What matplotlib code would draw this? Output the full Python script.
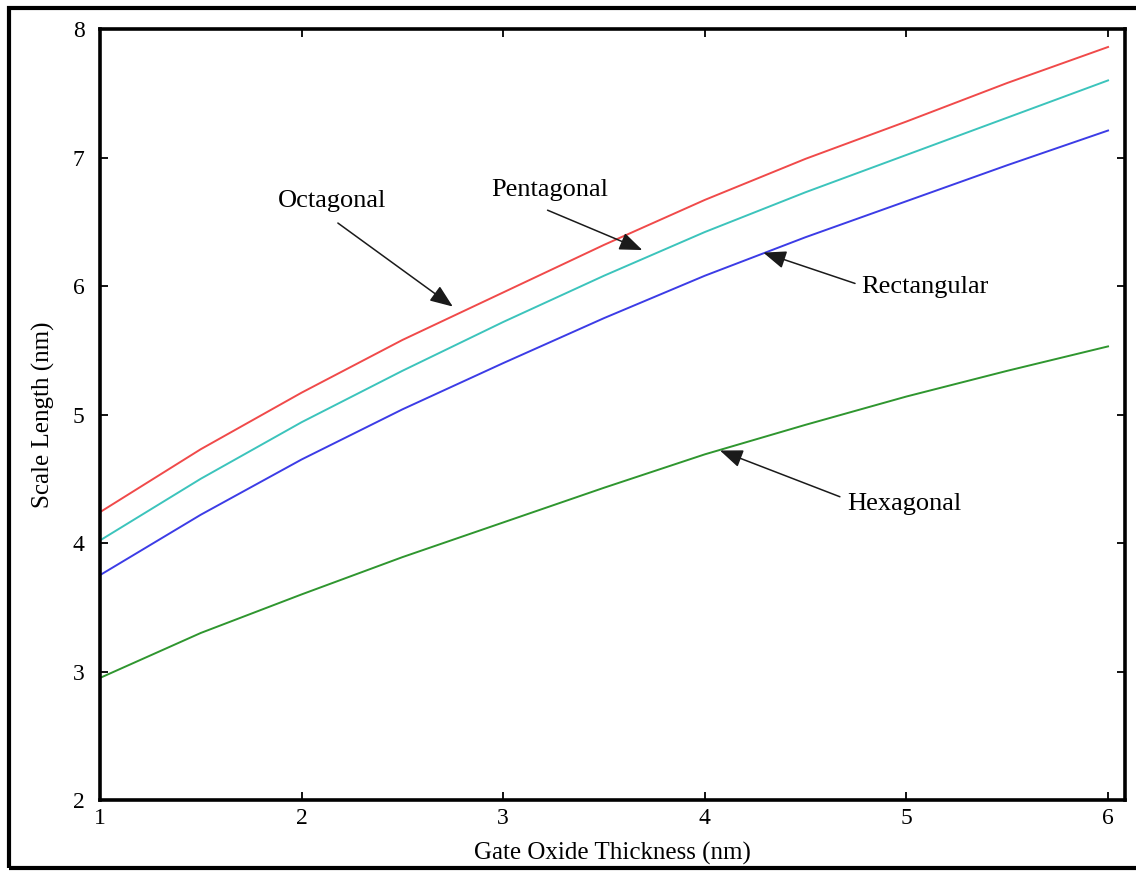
import matplotlib.pyplot as plt
from matplotlib.patches import Rectangle

# Scale length vs gate oxide thickness for different cross sections
tox = [1.0, 1.5, 2.0, 2.5, 3.0, 3.5, 4.0, 4.5, 5.0, 5.5, 6.0]
octagonal = [4.24, 4.73, 5.17, 5.58, 5.95, 6.32, 6.67, 6.99, 7.28, 7.58, 7.86]
pentagonal = [4.02, 4.50, 4.94, 5.34, 5.72, 6.08, 6.42, 6.73, 7.02, 7.31, 7.60]
rectangular = [3.75, 4.22, 4.65, 5.04, 5.40, 5.75, 6.08, 6.38, 6.66, 6.94, 7.21]
hexagonal = [2.95, 3.30, 3.60, 3.89, 4.16, 4.43, 4.69, 4.92, 5.14, 5.34, 5.53]

xticks = [1, 2, 3, 4, 5, 6]
yticks = [2, 3, 4, 5, 6, 7, 8]

plt.rcParams['font.family'] = ['Liberation Serif', 'DejaVu Serif']

fig = plt.figure(figsize=(11.36, 8.71), dpi=100)
ax = fig.add_axes([0.088, 0.0815, 0.9023, 0.8852])

ax.plot(tox, octagonal, color='#f04a4a', lw=1.4)
ax.plot(tox, pentagonal, color='#3cc4bc', lw=1.4)
ax.plot(tox, rectangular, color='#3c3ce6', lw=1.4)
ax.plot(tox, hexagonal, color='#2f962f', lw=1.4)

ax.set_xlim(1, 6.084)
ax.set_ylim(2, 8)
ax.set_xticks(xticks)
ax.set_yticks(yticks)
ax.tick_params(direction='in', length=6, width=1.3, top=True, right=True,
               labelsize=17)
ax.tick_params(axis='x', pad=6)
ax.tick_params(axis='y', pad=11)
for sp in ax.spines.values():
    sp.set_linewidth(2.6)

ax.set_xlabel('Gate Oxide Thickness (nm)', fontsize=18, labelpad=9)
ax.set_ylabel('Scale Length (nm)', fontsize=18, labelpad=13)

# labels with arrows pointing at each curve
notes = [
    ('Octagonal', (2.15, 6.66), (2.18, 6.49), (2.75, 5.84)),
    ('Pentagonal', (3.23, 6.75), (3.22, 6.59), (3.69, 6.28)),
    ('Rectangular', (5.09, 5.99), (4.745, 6.02), (4.29, 6.26)),
    ('Hexagonal', (4.99, 4.30), (4.67, 4.36), (4.075, 4.72)),
]
for name, txt_pos, tail, tip in notes:
    ax.text(txt_pos[0], txt_pos[1], name, fontsize=19, ha='center', va='center')
    ax.annotate('', xy=tip, xytext=tail,
                arrowprops=dict(arrowstyle='-|>,head_length=1.4,head_width=0.55',
                                color='#1a1a1a', lw=1.1, mutation_scale=10,
                                shrinkA=0, shrinkB=0))

# outer frame around the whole figure
fig.patches.append(Rectangle((9 / 1136, 3 / 871), 1.02, 860 / 871,
                             transform=fig.transFigure, fill=False,
                             edgecolor='black', lw=3, clip_on=False))

fig.savefig('out.png', dpi=100)
